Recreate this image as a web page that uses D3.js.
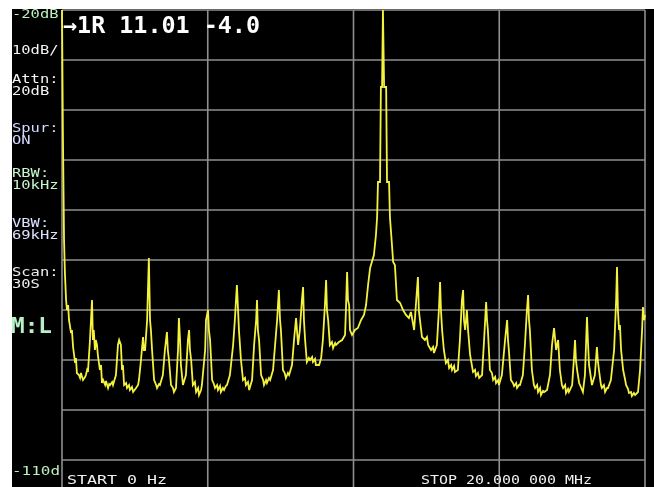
<!DOCTYPE html>
<html>
<head>
<meta charset="utf-8">
<script src="https://cdn.jsdelivr.net/npm/d3@7"></script>
<style>
  html, body { margin: 0; padding: 0; background: #ffffff; }
  svg { display: block; }
  text { font-family: "DejaVu Sans Mono", "Liberation Mono", monospace; }
</style>
</head>
<body>
<script>
// Sweep: 0 Hz to 20 MHz, reference level -20 dBm, 10 dB/div
const freqTicksMHz = [0, 5, 10, 15, 20];
const levelTicksDbm = [-20, -30, -40, -50, -60, -70, -80, -90, -100, -110];

// Measured trace points: frequency (MHz) and level (dBm)
const freqMHz = [
  0.00, 0.03, 0.07, 0.10, 0.14, 0.17, 0.21, 0.24, 0.31, 0.34,
  0.38, 0.45, 0.48, 0.51, 0.58, 0.62, 0.65, 0.72, 0.79, 0.82,
  0.86, 0.89, 0.96, 1.03, 1.06, 1.09, 1.13, 1.16, 1.20, 1.23,
  1.30, 1.34, 1.37, 1.41, 1.48, 1.51, 1.58, 1.62, 1.65, 1.72,
  1.75, 1.85, 1.92, 1.96, 2.02, 2.06, 2.09, 2.13, 2.20, 2.23,
  2.30, 2.33, 2.40, 2.44, 2.54, 2.61, 2.64, 2.71, 2.78, 2.81,
  2.85, 2.92, 2.98, 3.02, 3.05, 3.09, 3.16, 3.23, 3.26, 3.33,
  3.36, 3.46, 3.53, 3.60, 3.63, 3.67, 3.74, 3.81, 3.84, 3.91,
  3.98, 4.01, 4.05, 4.08, 4.15, 4.25, 4.32, 4.36, 4.39, 4.43,
  4.49, 4.56, 4.60, 4.67, 4.70, 4.77, 4.80, 4.91, 4.94, 5.01,
  5.04, 5.08, 5.15, 5.21, 5.25, 5.32, 5.35, 5.42, 5.45, 5.52,
  5.56, 5.62, 5.66, 5.76, 5.87, 5.93, 6.00, 6.04, 6.07, 6.14,
  6.21, 6.28, 6.31, 6.38, 6.42, 6.52, 6.59, 6.66, 6.69, 6.72,
  6.76, 6.83, 6.90, 6.93, 7.00, 7.03, 7.10, 7.14, 7.24, 7.31,
  7.38, 7.44, 7.48, 7.51, 7.58, 7.64, 7.68, 7.75, 7.79, 7.89,
  7.96, 8.03, 8.06, 8.10, 8.16, 8.23, 8.27, 8.30, 8.34, 8.40,
  8.47, 8.51, 8.58, 8.61, 8.68, 8.71, 8.82, 8.89, 8.95, 9.02,
  9.06, 9.09, 9.13, 9.19, 9.26, 9.30, 9.37, 9.40, 9.50, 9.61,
  9.71, 9.74, 9.78, 9.81, 9.85, 9.88, 9.95, 10.05, 10.15, 10.26,
  10.36, 10.43, 10.50, 10.57, 10.63, 10.70, 10.77, 10.81, 10.84, 10.91,
  10.94, 10.98, 11.01, 11.05, 11.12, 11.15, 11.22, 11.25, 11.32, 11.36,
  11.42, 11.49, 11.60, 11.70, 11.80, 11.90, 11.97, 12.08, 12.14, 12.21,
  12.24, 12.28, 12.35, 12.45, 12.52, 12.56, 12.66, 12.73, 12.76, 12.86,
  12.93, 12.97, 13.00, 13.04, 13.10, 13.17, 13.24, 13.28, 13.35, 13.38,
  13.45, 13.48, 13.58, 13.65, 13.72, 13.76, 13.79, 13.83, 13.89, 13.93,
  14.00, 14.10, 14.17, 14.20, 14.27, 14.31, 14.41, 14.48, 14.55, 14.58,
  14.61, 14.68, 14.75, 14.79, 14.86, 14.89, 14.96, 14.99, 15.09, 15.20,
  15.27, 15.30, 15.33, 15.40, 15.47, 15.51, 15.58, 15.61, 15.68, 15.71,
  15.81, 15.88, 15.95, 15.99, 16.02, 16.05, 16.12, 16.19, 16.23, 16.30,
  16.33, 16.40, 16.43, 16.50, 16.54, 16.64, 16.74, 16.81, 16.88, 16.92,
  16.95, 17.02, 17.08, 17.15, 17.19, 17.26, 17.29, 17.36, 17.39, 17.50,
  17.56, 17.60, 17.63, 17.67, 17.74, 17.77, 17.87, 17.94, 18.01, 18.04,
  18.08, 18.18, 18.28, 18.35, 18.38, 18.42, 18.49, 18.52, 18.59, 18.63,
  18.70, 18.73, 18.83, 18.94, 19.01, 19.04, 19.07, 19.11, 19.14, 19.18,
  19.25, 19.32, 19.35, 19.42, 19.45, 19.52, 19.55, 19.62, 19.66, 19.76,
  19.83, 19.90, 19.93, 19.97, 20.00
];
const levelDbm = [
  -12.0, -44.0, -66.0, -72.6, -78.0, -80.0, -79.0, -82.0, -84.6, -84.0,
  -87.4, -90.6, -89.6, -92.6, -93.0, -93.6, -92.6, -94.0, -93.4, -93.0,
  -92.0, -92.4, -86.0, -78.0, -86.0, -84.0, -88.0, -86.0, -87.0, -89.0,
  -92.0, -91.0, -94.6, -94.0, -95.0, -94.2, -95.6, -94.8, -95.0, -94.4,
  -95.0, -93.0, -87.0, -86.0, -87.0, -92.0, -91.0, -95.0, -94.6, -95.6,
  -95.0, -96.0, -95.4, -96.4, -95.6, -95.0, -94.0, -90.0, -85.4, -88.0,
  -88.0, -82.0, -69.6, -82.0, -84.0, -88.0, -94.0, -95.0, -95.6, -94.8,
  -95.0, -93.0, -88.0, -84.4, -88.0, -90.0, -95.0, -95.6, -96.4, -95.6,
  -88.0, -81.6, -86.0, -91.0, -95.0, -93.0, -86.0, -84.0, -88.0, -90.0,
  -95.0, -94.4, -96.4, -95.6, -97.0, -96.0, -95.0, -88.0, -82.0, -80.0,
  -84.0, -86.0, -94.0, -94.8, -95.6, -95.0, -96.0, -95.2, -96.4, -95.6,
  -96.0, -95.2, -95.0, -93.0, -87.0, -82.0, -75.0, -80.0, -84.0, -90.0,
  -94.0, -93.6, -95.0, -94.4, -96.0, -94.0, -87.0, -82.0, -78.0, -84.0,
  -86.0, -93.0, -94.0, -95.0, -94.0, -94.6, -93.6, -94.0, -92.0, -87.0,
  -82.0, -76.0, -82.0, -84.0, -92.0, -92.6, -93.6, -92.6, -93.0, -91.0,
  -86.0, -81.6, -84.0, -87.0, -84.0, -78.0, -75.4, -82.0, -86.0, -90.4,
  -89.6, -90.0, -89.4, -90.4, -89.8, -91.0, -91.0, -89.6, -86.0, -79.0,
  -74.0, -80.0, -82.0, -87.0, -86.4, -87.6, -86.6, -87.0, -86.4, -86.0,
  -85.0, -80.0, -72.4, -78.0, -79.0, -84.0, -85.0, -84.0, -83.6, -82.0,
  -81.0, -79.0, -75.0, -71.6, -70.4, -69.0, -65.0, -61.4, -54.4, -54.4,
  -35.4, -35.4, -4.0, -35.4, -35.4, -54.4, -54.4, -61.4, -67.0, -70.4,
  -71.0, -78.0, -78.6, -80.0, -81.0, -81.6, -80.4, -84.0, -79.0, -73.4,
  -80.0, -82.0, -85.4, -86.0, -85.4, -87.0, -88.0, -87.4, -88.6, -87.0,
  -80.0, -74.4, -80.0, -84.0, -88.0, -90.6, -90.0, -91.6, -91.0, -92.0,
  -91.2, -92.4, -92.0, -86.0, -78.0, -76.0, -82.0, -84.0, -80.0, -84.0,
  -89.0, -92.4, -92.0, -93.2, -92.6, -93.6, -93.0, -86.0, -78.4, -82.0,
  -84.0, -92.0, -92.6, -94.0, -93.4, -94.6, -94.0, -95.0, -93.0, -86.0,
  -82.0, -86.0, -88.0, -94.0, -94.6, -95.2, -94.6, -95.6, -95.0, -95.0,
  -93.0, -87.0, -80.0, -77.0, -82.0, -84.0, -92.0, -95.0, -95.6, -95.0,
  -96.4, -95.6, -97.0, -96.2, -96.4, -96.0, -93.0, -87.0, -83.6, -86.0,
  -88.0, -86.0, -92.0, -95.0, -95.6, -95.0, -96.6, -95.8, -96.4, -95.0,
  -90.0, -86.0, -90.0, -92.0, -94.6, -95.0, -96.4, -93.0, -81.4, -86.0,
  -91.0, -95.0, -93.0, -87.4, -90.0, -92.0, -95.0, -95.6, -95.0, -96.4,
  -95.6, -95.6, -94.0, -88.0, -78.0, -71.4, -80.0, -84.0, -83.0, -88.0,
  -92.0, -94.0, -95.0, -95.8, -96.6, -96.4, -97.2, -96.6, -97.0, -96.4,
  -92.0, -84.0, -79.4, -82.0, -81.0
];

// Left status column (label / value pairs) and footer texts
const statusGroups = [["-20dB"], ["10dB/"], ["Attn:", "20dB"], ["Spur:", "ON"],
                      ["RBW:", "10kHz"], ["VBW:", "69kHz"], ["Scan:", "30S"]];
const markerMode = "M:L";
const bottomLevel = "-110d";
const startLabel = "START 0 Hz";
const stopLabel = "STOP 20.000 000 MHz";
const markerReadout = ["\u2192", "1R", "11.01", "-4.0"];

const W = 654, H = 487;
const plot = { left: 62, right: 645, top: 10, bottom: 460 };

const svg = d3.select("body").append("svg")
  .attr("width", W).attr("height", H);

const defs = svg.append("defs");
defs.append("clipPath").attr("id", "plot-clip")
  .append("rect")
  .attr("x", plot.left - 1).attr("y", plot.top)
  .attr("width", plot.right - plot.left + 2).attr("height", plot.bottom - plot.top + 14);
defs.append("filter").attr("id", "soft")
  .attr("x", "-5%").attr("y", "-5%").attr("width", "110%").attr("height", "110%")
  .append("feGaussianBlur").attr("stdDeviation", 0.45);

// screen background
svg.append("rect").attr("x", 12).attr("y", 9)
  .attr("width", W - 12).attr("height", H - 9).attr("fill", "#000");

const x = d3.scaleLinear().domain([0, 20]).range([plot.left, plot.right]);
const y = d3.scaleLinear().domain([-110, -20]).range([plot.bottom, plot.top]);

const screen = svg.append("g").attr("filter", "url(#soft)");

// graticule
const grid = screen.append("g").attr("stroke", "#8f8f8f").attr("stroke-width", 1.6);
grid.selectAll("line.h").data(levelTicksDbm).join("line")
  .attr("x1", plot.left).attr("x2", plot.right)
  .attr("y1", d => y(d)).attr("y2", d => y(d));
grid.selectAll("line.v").data(freqTicksMHz).join("line")
  .attr("x1", d => x(d)).attr("x2", d => x(d))
  .attr("y1", plot.top).attr("y2", H);

// trace
const n = Math.min(freqMHz.length, levelDbm.length);
const trace = d3.range(n).map(i => ({ f: freqMHz[i], v: levelDbm[i] }));
const line = d3.line().x(d => x(d.f)).y(d => y(Math.min(d.v, -20)));
screen.append("path")
  .datum(trace)
  .attr("clip-path", "url(#plot-clip)")
  .attr("fill", "none")
  .attr("stroke", "#f4f23e")
  .attr("stroke-width", 1.8)
  .attr("stroke-linejoin", "miter")
  .attr("d", line);

// status column: monospace text stretched to the instrument's wide cell
const statusBaselines = [18, 54, 83, 132, 177, 227, 276];
const statusColors = ["#b9f0bd", "#f4f4f4", "#f4f4f4", "#d6dcff", "#c6f7cf", "#dde2ff", "#eeeeee"];
const stretch = 1.19;
const status = screen.append("g").selectAll("text").data(statusGroups).join("text")
  .attr("transform", (d, i) => `translate(12,${statusBaselines[i]}) scale(${stretch},1)`)
  .attr("fill", (d, i) => statusColors[i])
  .attr("font-size", 13);
status.selectAll("tspan").data(d => d).join("tspan")
  .attr("x", 0)
  .attr("dy", (d, i) => i === 0 ? 0 : 11.5)
  .text(d => d);

screen.append("text")
  .attr("x", 11).attr("y", 333)
  .attr("fill", "#b6f0c6")
  .attr("font-size", 22).attr("font-weight", "bold")
  .attr("textLength", 41).attr("lengthAdjust", "spacingAndGlyphs")
  .text(markerMode);

screen.append("text")
  .attr("x", 12).attr("y", y(-110) + 15)
  .attr("fill", "#b9f0bd")
  .attr("font-size", 13)
  .attr("textLength", 48).attr("lengthAdjust", "spacingAndGlyphs")
  .text(bottomLevel);

screen.append("text")
  .attr("x", 67).attr("y", 484)
  .attr("fill", "#f0f0f0")
  .attr("font-size", 13)
  .attr("textLength", 100).attr("lengthAdjust", "spacingAndGlyphs")
  .text(startLabel);

screen.append("text")
  .attr("x", 421).attr("y", 484)
  .attr("fill", "#f0f0f0")
  .attr("font-size", 13)
  .attr("textLength", 171).attr("lengthAdjust", "spacingAndGlyphs")
  .text(stopLabel);

// marker readout
screen.append("text")
  .attr("x", 63).attr("y", 33)
  .attr("fill", "#ffffff")
  .attr("font-size", 23).attr("font-weight", "bold")
  .attr("xml:space", "preserve")
  .attr("textLength", 197).attr("lengthAdjust", "spacingAndGlyphs")
  .text(`${markerReadout[0]}${markerReadout[1]} ${markerReadout[2]} ${markerReadout[3]}`);

// white margins outside the screen
svg.append("rect").attr("x", 0).attr("y", 0).attr("width", W).attr("height", 9).attr("fill", "#fff");
svg.append("rect").attr("x", 0).attr("y", 0).attr("width", 12).attr("height", H).attr("fill", "#fff");
</script>
</body>
</html>
